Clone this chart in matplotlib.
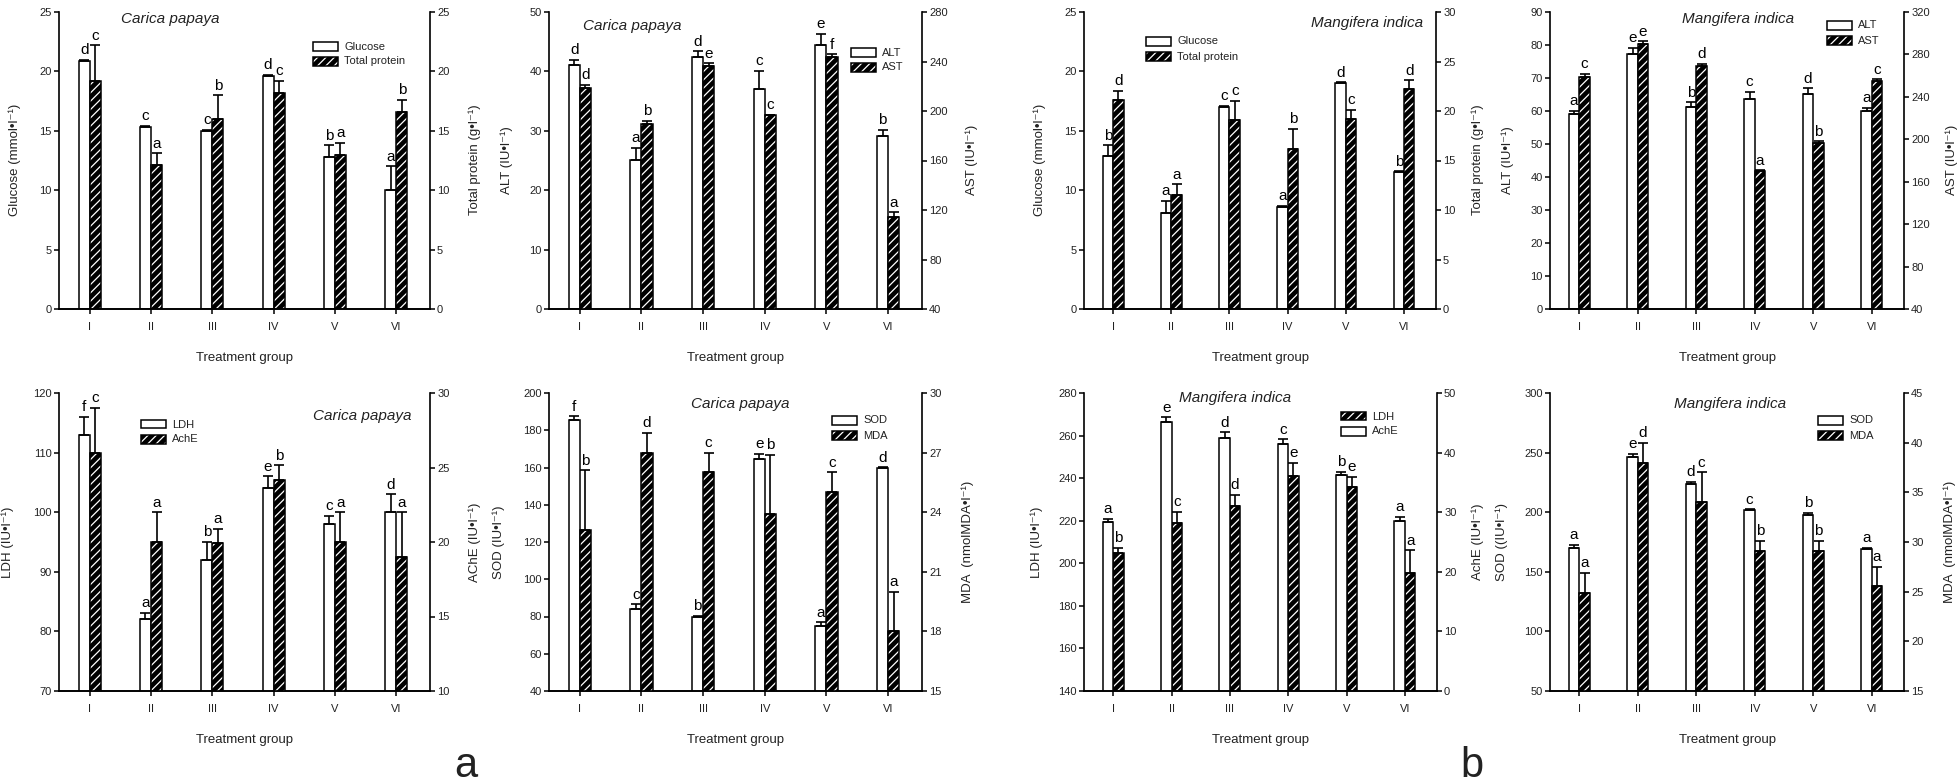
import matplotlib
matplotlib.use("Agg")
import matplotlib.pyplot as plt
from matplotlib.patches import Rectangle
import numpy as np

plt.rcParams['font.family'] = ['Liberation Sans', 'DejaVu Sans']
plt.rcParams['hatch.linewidth'] = 0.9

W, H = 1960, 784
HATCH = '////'

groups = ['I', 'II', 'III', 'IV', 'V', 'VI']

# ---- a: Carica papaya ----
cp_glucose = [20.9, 15.3, 15.0, 19.6, 12.8, 10.0]
cp_glucose_err = [0.1, 0.1, 0.1, 0.1, 1.0, 2.0]
cp_glucose_sig = ['d', 'c', 'c', 'd', 'b', 'a']
cp_protein = [19.2, 12.1, 16.0, 18.2, 13.0, 16.6]
cp_protein_err = [3.0, 1.0, 2.0, 1.0, 1.0, 1.0]
cp_protein_sig = ['c', 'a', 'b', 'c', 'a', 'b']

cp_alt = [41.0, 25.1, 42.4, 37.1, 44.5, 29.2]
cp_alt_err = [1.0, 2.0, 1.0, 3.0, 1.8, 1.0]
cp_alt_sig = ['d', 'a', 'd', 'c', 'e', 'b']
cp_ast = [218.5, 189.2, 236.5, 196.5, 243.8, 114.7]
cp_ast_err = [2.5, 3.0, 2.0, 0.5, 2.0, 3.5]
cp_ast_sig = ['d', 'b', 'e', 'c', 'f', 'a']

cp_ldh = [113.0, 82.0, 92.0, 104.0, 98.1, 100.1]
cp_ldh_err = [3.0, 1.1, 3.0, 2.0, 1.3, 2.9]
cp_ldh_sig = ['f', 'a', 'b', 'e', 'c', 'd']
cp_ache = [26.0, 20.0, 19.9, 24.15, 20.0, 19.0]
cp_ache_err = [3.0, 2.0, 1.0, 1.0, 2.0, 3.0]
cp_ache_sig = ['c', 'a', 'a', 'b', 'a', 'a']

cp_sod = [185.3, 83.8, 79.5, 164.5, 75.0, 159.6]
cp_sod_err = [2.1, 2.7, 0.9, 3.0, 2.0, 0.5]
cp_sod_sig = ['f', 'c', 'b', 'e', 'a', 'd']
cp_mda = [23.1, 27.0, 26.0, 23.9, 25.0, 18.0]
cp_mda_err = [3.0, 1.0, 1.0, 3.0, 1.0, 2.0]
cp_mda_sig = ['b', 'd', 'c', 'b', 'c', 'a']

# ---- b: Mangifera indica ----
mi_glucose = [12.9, 8.1, 17.0, 8.6, 19.0, 11.5]
mi_glucose_err = [0.9, 1.0, 0.1, 0.1, 0.1, 0.1]
mi_glucose_sig = ['b', 'a', 'c', 'a', 'd', 'b']
mi_protein = [21.1, 11.5, 19.1, 16.2, 19.15, 22.2]
mi_protein_err = [0.95, 1.1, 1.95, 2.0, 1.0, 0.9]
mi_protein_sig = ['d', 'a', 'c', 'b', 'c', 'd']

mi_alt = [59.0, 77.4, 61.3, 63.7, 65.2, 59.9]
mi_alt_err = [1.1, 1.7, 1.4, 2.1, 1.7, 1.0]
mi_alt_sig = ['a', 'e', 'b', 'c', 'd', 'a']
mi_ast = [258.3, 289.6, 268.9, 170.1, 196.1, 254.8]
mi_ast_err = [3.4, 2.8, 2.2, 0.5, 1.9, 1.9]
mi_ast_sig = ['c', 'e', 'd', 'a', 'b', 'c']

mi_ache = [28.3, 45.1, 42.5, 41.5, 36.2, 28.5]
mi_ache_err = [0.6, 0.8, 0.9, 0.7, 0.6, 0.7]
mi_ache_sig = ['a', 'e', 'd', 'c', 'b', 'a']
mi_ldh = [204.7, 218.8, 227.0, 241.1, 235.7, 195.3]
mi_ldh_err = [2.6, 5.3, 5.3, 6.1, 5.0, 10.8]
mi_ldh_sig = ['b', 'c', 'd', 'e', 'e', 'a']

mi_sod = [170.2, 245.9, 223.5, 201.6, 197.4, 169.1]
mi_sod_err = [2.3, 3.1, 2.2, 1.0, 2.3, 1.0]
mi_sod_sig = ['a', 'e', 'd', 'c', 'b', 'a']
mi_mda = [24.9, 38.0, 34.0, 29.1, 29.1, 25.6]
mi_mda_err = [2.0, 2.0, 3.0, 1.0, 1.0, 1.9]
mi_mda_sig = ['a', 'd', 'c', 'b', 'b', 'a']

TXT = '#222222'
fig = plt.figure(figsize=(W / 100, H / 100), dpi=100)


def fx(x):
    return x / W


def fy(y):
    return 1 - y / H


def bars(ax, x, vals, errs, sigs, hatched):
    w = 0.18
    if hatched:
        ax.bar(x, vals, width=w, align='edge', facecolor='black',
               edgecolor='white', hatch=HATCH, linewidth=0, zorder=2)
        ax.bar(x, vals, width=w, align='edge', facecolor='none',
               edgecolor='black', linewidth=1.1, zorder=3)
        xc = x + w / 2
    else:
        ax.bar(x, vals, width=-w, align='edge', facecolor='white',
               edgecolor='black', linewidth=1.1, zorder=2)
        xc = x - w / 2
    ax.errorbar(xc, vals, yerr=[np.zeros(len(vals)), errs], fmt='none',
                ecolor='black', elinewidth=1.2, capsize=3.3, capthick=1.2,
                zorder=4)
    for xi, v, e, s in zip(xc, vals, errs, sigs):
        ax.annotate(s, (xi, v + e), xytext=(0, 4), textcoords='offset points',
                    ha='center', va='baseline', fontsize=11, color='black',
                    annotation_clip=False)


def legend(x, y, entries):
    for k, (hatched, label) in enumerate(entries):
        yy = y + k * 15
        r = (fx(x), fy(yy + 8.5))
        if hatched:
            fig.add_artist(Rectangle(r, 25 / W, 8.5 / H, transform=fig.transFigure,
                                     facecolor='black', edgecolor='white',
                                     hatch=HATCH, linewidth=0))
        fig.add_artist(Rectangle(r, 25 / W, 8.5 / H, transform=fig.transFigure,
                                 facecolor='none' if hatched else 'white',
                                 edgecolor='black', linewidth=1.1))
        fig.text(fx(x + 31), fy(yy + 4.5), label, fontsize=8, color=TXT,
                 ha='left', va='center')


def panel(box, left_lim, left_ticks, right_lim, right_ticks,
          white, hatched, title, title_xy, leg_xy, leg_entries):
    l, r, t, b = box
    ax = fig.add_axes([fx(l), fy(b), (r - l) / W, (b - t) / H])
    ax2 = ax.twinx()
    x = np.arange(len(groups))
    for a, lim, ticks in ((ax, left_lim, left_ticks), (ax2, right_lim, right_ticks)):
        a.set_ylim(*lim)
        a.set_yticks(ticks)
        a.set_xlim(-0.5, 5.55)
        a.spines['top'].set_visible(False)
        for s in a.spines.values():
            s.set_linewidth(1.2)
        a.tick_params(axis='y', direction='out', length=3.6, width=1.1,
                      pad=1.5, labelsize=8, labelcolor=TXT)
    ax.spines['right'].set_visible(False)
    ax2.spines['left'].set_visible(False)
    ax.set_xticks(x)
    ax.set_xticklabels(groups)
    ax.tick_params(axis='x', direction='out', length=3.6, width=1.1, pad=5.5,
                   labelsize=8, labelcolor=TXT)
    ax.patch.set_visible(False)
    for series, is_hatched in ((white, False), (hatched, True)):
        vals, errs, sigs, side = series
        bars(ax if side == 'left' else ax2, x, vals, errs, sigs, is_hatched)
    fig.text(fx(title_xy[0]), fy(title_xy[1]), title, fontsize=11,
             fontstyle='italic', color=TXT, ha='center', va='center')
    fig.text(fx((l + r) / 2), fy(b + 49), 'Treatment group', fontsize=9.5,
             color=TXT, ha='center', va='center')
    legend(leg_xy[0], leg_xy[1], leg_entries)
    return ax, ax2


TOP = (12, 309)
BOT = (393, 691)

panel((59, 430) + TOP, (0, 25), range(0, 26, 5), (0, 25), range(0, 26, 5),
      (cp_glucose, cp_glucose_err, cp_glucose_sig, 'left'),
      (cp_protein, cp_protein_err, cp_protein_sig, 'right'),
      'Carica papaya', (170, 19), (313, 42),
      [(False, 'Glucose'), (True, 'Total protein')])

panel((549, 922) + TOP, (0, 50), range(0, 51, 10), (40, 280), range(40, 281, 40),
      (cp_alt, cp_alt_err, cp_alt_sig, 'left'),
      (cp_ast, cp_ast_err, cp_ast_sig, 'right'),
      'Carica papaya', (632, 26), (851, 48),
      [(False, 'ALT'), (True, 'AST')])

panel((1084, 1436) + TOP, (0, 25), range(0, 26, 5), (0, 30), range(0, 31, 5),
      (mi_glucose, mi_glucose_err, mi_glucose_sig, 'left'),
      (mi_protein, mi_protein_err, mi_protein_sig, 'right'),
      'Mangifera indica', (1367, 23), (1146, 37),
      [(False, 'Glucose'), (True, 'Total protein')])

panel((1550, 1904) + TOP, (0, 90), range(0, 91, 10), (40, 320), range(40, 321, 40),
      (mi_alt, mi_alt_err, mi_alt_sig, 'left'),
      (mi_ast, mi_ast_err, mi_ast_sig, 'right'),
      'Mangifera indica', (1738, 19), (1827, 21),
      [(False, 'ALT'), (True, 'AST')])

panel((59, 430) + BOT, (70, 120), range(70, 121, 10), (10, 30), range(10, 31, 5),
      (cp_ldh, cp_ldh_err, cp_ldh_sig, 'left'),
      (cp_ache, cp_ache_err, cp_ache_sig, 'right'),
      'Carica papaya', (362, 416), (141, 420),
      [(False, 'LDH'), (True, 'AchE')])

panel((549, 922) + BOT, (40, 200), range(40, 201, 20), (15, 30), range(15, 31, 3),
      (cp_sod, cp_sod_err, cp_sod_sig, 'left'),
      (cp_mda, cp_mda_err, cp_mda_sig, 'right'),
      'Carica papaya', (740, 404), (832, 416),
      [(False, 'SOD'), (True, 'MDA')])

panel((1084, 1437) + BOT, (140, 280), range(140, 281, 20), (0, 50), range(0, 51, 10),
      (mi_ache, mi_ache_err, mi_ache_sig, 'right'),
      (mi_ldh, mi_ldh_err, mi_ldh_sig, 'left'),
      'Mangifera indica', (1235, 398), (1341, 412),
      [(True, 'LDH'), (False, 'AchE')])

panel((1550, 1904) + BOT, (50, 300), range(50, 301, 50), (15, 45), range(15, 46, 5),
      (mi_sod, mi_sod_err, mi_sod_sig, 'left'),
      (mi_mda, mi_mda_err, mi_mda_sig, 'right'),
      'Mangifera indica', (1730, 404), (1818, 416),
      [(False, 'SOD'), (True, 'MDA')])

# y-axis labels (positions in pixels: x, y-centre)
ylabels = [
    ('Glucose (mmol•l⁻¹)', 15, 160),
    ('Total protein (g•l⁻¹)', 475, 160),
    ('ALT (IU•l⁻¹)', 507, 160),
    ('AST (IU•l⁻¹)', 972, 160),
    ('Glucose (mmol•l⁻¹)', 1040, 160),
    ('Total protein (g•l⁻¹)', 1478, 160),
    ('ALT (IU•l⁻¹)', 1508, 160),
    ('AST (IU•l⁻¹)', 1952, 160),
    ('LDH (IU•l⁻¹)', 8, 542),
    ('AChE (IU•l⁻¹)', 475, 542),
    ('SOD (IU•l⁻¹)', 499, 542),
    ('MDA  (nmolMDA•l⁻¹)', 968, 542),
    ('LDH (IU•l⁻¹)', 1037, 542),
    ('AchE (IU•l⁻¹)', 1478, 542),
    ('SOD ((IU•l⁻¹)', 1502, 542),
    ('MDA  (nmolMDA•l⁻¹)', 1950, 542),
]
for txt, x, y in ylabels:
    fig.text(fx(x), fy(y), txt, rotation=90, fontsize=9.5, color=TXT,
             ha='center', va='center')

fig.text(fx(466), fy(766), 'a', fontsize=30, color=TXT, ha='center', va='center')
fig.text(fx(1472), fy(766), 'b', fontsize=30, color=TXT, ha='center', va='center')

fig.savefig('out.png', dpi=100)
